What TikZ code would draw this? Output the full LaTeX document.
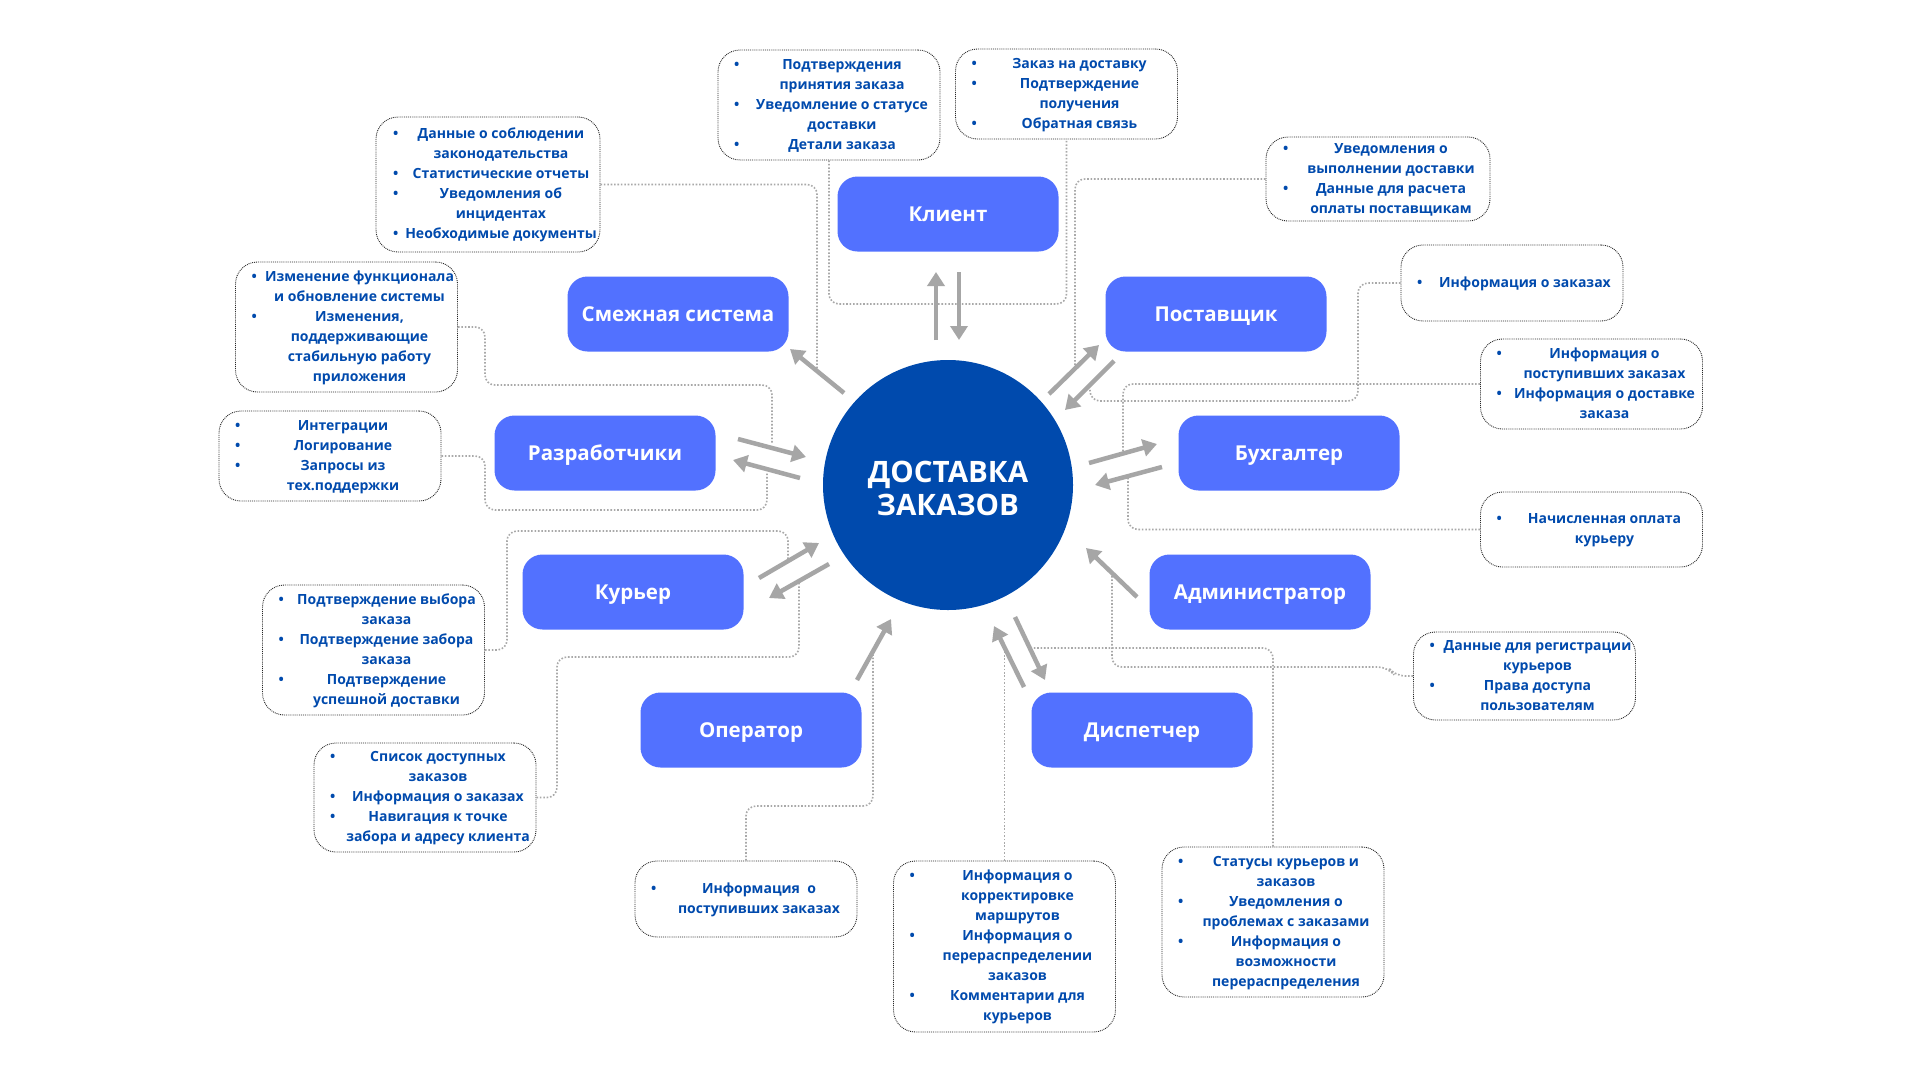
\documentclass[tikz,border=0pt]{standalone}
\usepackage{fontspec}
\setmainfont{Open Sans}
\usetikzlibrary{arrows.meta}
\definecolor{rolebl}{HTML}{5271FF}
\definecolor{darkbl}{HTML}{004AAD}
\definecolor{arrgray}{HTML}{A6A6A6}
\definecolor{dotgray}{HTML}{A9A9A9}
\newlength{\ibw}\setlength{\ibw}{222pt}
\newcommand{\bitem}[1]{\hbox to \ibw{\hbox to 26pt{\hspace{16pt}\textbullet\hss}\hbox to 196pt{\hss\vtop{\hsize=206pt\parindent=0pt\centering\strut #1\strut\par}\hss}\hss}\prevdepth=6pt}
\newcommand{\infotext}[1]{\vbox{\hsize=\ibw\baselineskip=20pt\lineskiplimit=0pt\lineskip=0pt\parindent=0pt #1}}
\tikzset{
  info/.style={draw=black!85, densely dotted, line width=0.9pt, rounded corners=22pt, fill=white, inner sep=0pt, text=darkbl, font=\fontsize{14}{20}\selectfont\bfseries},
  role/.style={fill=rolebl, rounded corners=20pt, minimum width=221pt, minimum height=75pt, inner sep=0pt, text height=15pt, text depth=0pt, text=white, font=\fontsize{20.5}{25}\selectfont\bfseries},
  hub/.style={circle, fill=darkbl, minimum size=250pt, inner sep=0pt},
  hubtxt/.style={inner sep=0pt, text=white, align=center, font=\fontsize{29.5}{33}\selectfont\bfseries},
  arr/.style={draw=arrgray, line width=4.5pt, -{Triangle[length=14pt,width=17pt]}},
  conn/.style={draw=dotgray, line width=1.6pt, dash pattern=on 1.6pt off 1.8pt, rounded corners=10pt}
}
\begin{document}
\begin{tikzpicture}[x=1pt,y=-1pt]
\fill[white] (0,0) rectangle (1920,1080);
\path[use as bounding box] (0,0) rectangle (1920,1080);

% info boxes
\node[info, minimum width=222pt, minimum height=110pt] (i1) at (829,105) {\infotext{\bitem{Подтверждения\\принятия заказа}\bitem{Уведомление о статусе\\доставки}\bitem{Детали заказа}}};
\node[info, minimum width=221pt, minimum height=90pt] (i2) at (1066.5,94) {\infotext{\bitem{Заказ на доставку}\bitem{Подтверждение\\получения}\bitem{Обратная связь}}};
\node[info, minimum width=224pt, minimum height=135pt] (i3) at (488,184.5) {\infotext{\bitem{Данные о соблюдении\\законодательства}\bitem{Статистические отчеты}\bitem{Уведомления об\\инцидентах}\bitem{Необходимые документы}}};
\node[info, minimum width=221pt, minimum height=130pt] (i4) at (346.5,327) {\infotext{\bitem{Изменение функционала\\и обновление системы}\bitem{Изменения,\\поддерживающие\\стабильную работу\\приложения}}};
\node[info, minimum width=220pt, minimum height=90pt] (i5) at (330,456) {\infotext{\bitem{Интеграции}\bitem{Логирование}\bitem{Запросы из\\тех.поддержки}}};
\node[info, minimum width=221pt, minimum height=130pt] (i6) at (373.5,650) {\infotext{\bitem{Подтверждение выбора\\заказа}\bitem{Подтверждение забора\\заказа}\bitem{Подтверждение\\успешной доставки}}};
\node[info, minimum width=222pt, minimum height=109pt] (i7) at (425,797.5) {\infotext{\bitem{Список доступных\\заказов}\bitem{Информация о заказах}\bitem{Навигация к точке\\забора и адресу клиента}}};
\node[info, minimum width=222pt, minimum height=76pt] (i8) at (746,899) {\infotext{\bitem{Информация\ \ о\\поступивших заказах}}};
\node[info, minimum width=221pt, minimum height=171pt] (i9) at (1004.5,946.5) {\infotext{\bitem{Информация о\\корректировке\\маршрутов}\bitem{Информация о\\перераспределении\\заказов}\bitem{Комментарии для\\курьеров}}};
\node[info, minimum width=220pt, minimum height=150pt] (i10) at (1273,922) {\infotext{\bitem{Статусы курьеров и\\заказов}\bitem{Уведомления о\\проблемах с заказами}\bitem{Информация о\\возможности\\перераспределения}}};
\node[info, minimum width=221pt, minimum height=88pt] (i11) at (1524.5,676) {\infotext{\bitem{Данные для регистрации\\курьеров}\bitem{Права доступа\\пользователям}}};
\node[info, minimum width=221pt, minimum height=75pt] (i12) at (1591.5,529.5) {\infotext{\bitem{Начисленная оплата\\курьеру}}};
\node[info, minimum width=221pt, minimum height=90pt] (i13) at (1591.5,384) {\infotext{\bitem{Информация о\\поступивших заказах}\bitem{Информация о доставке\\заказа}}};
\node[info, minimum width=220pt, minimum height=76pt] (i14) at (1512,283) {\infotext{\bitem{Информация о заказах}}};
\node[info, minimum width=224pt, minimum height=84pt] (i15) at (1378,179) {\infotext{\bitem{Уведомления о\\выполнении доставки}\bitem{Данные для расчета\\оплаты поставщикам}}};

% connector end points
\coordinate (klbot) at (948,304);
\coordinate (e3) at (817,370);
\coordinate (e4) at (772,443);
\coordinate (e5) at (767,472);
\coordinate (e6) at (788,560);
\coordinate (e7) at (799,582);
\coordinate (e8) at (873,655);
\coordinate (e9) at (1004.5,650);
\coordinate (e10) at (1030,648);
\coordinate (e11) at (1112,573);
\coordinate (e12) at (1128,476);
\coordinate (e13) at (1123,453);
\coordinate (e14) at (1090,388);
\coordinate (e15) at (1075,370);

% dotted connectors
\draw[conn] (i1.south) |- (klbot) -| (i2.south);
\draw[conn] (i3.east) -| (e3);
\draw[conn] (i4.east) -| (485,385) -| (e4);
\draw[conn] (i5.east) -| (485,510) -| (e5);
\draw[conn] (i6.east) -| (507,531) -| (e6);
\draw[conn] (i7.east) -| (557,657) -| (e7);
\draw[conn] (i8.north) |- (873,806) -- (e8);
\draw[conn] (i9.north) -- (e9);
\draw[conn] (i10.north) |- (e10);
\draw[conn] (i11.west) -- (1395,676) -- (1388,667) -- (1112,667) -- (e11);
\draw[conn] (i12.west) -| (e12);
\draw[conn] (i13.west) -| (e13);
\draw[conn] (i14.west) -| (1358,401) -| (e14);
\draw[conn] (i15.west) -| (e15);

% role nodes
\node[role] (klient) at (948,214) {Клиент};
\node[role] (smezh) at (678,314) {Смежная система};
\node[role] (post) at (1216,314) {Поставщик};
\node[role] (razr) at (605,453) {Разработчики};
\node[role] (buh) at (1289,453) {Бухгалтер};
\node[role] (kur) at (633,592) {Курьер};
\node[role] (adm) at (1260,592) {Администратор};
\node[role] (oper) at (751,730) {Оператор};
\node[role] (disp) at (1142,730) {Диспетчер};

% hub
\node[hub] (hub) at (948,485) {};
\node[hubtxt] (hubtext) at (948,488) {ДОСТАВКА\\ЗАКАЗОВ};

% arrow end points
\coordinate (k1a) at (936,340); \coordinate (k1b) at (936,272);
\coordinate (k2a) at (959,272); \coordinate (k2b) at (959,340);
\coordinate (sa) at (844,393); \coordinate (sb) at (790,349);
\coordinate (p1a) at (1049,394); \coordinate (p1b) at (1099,345);
\coordinate (p2a) at (1114,361); \coordinate (p2b) at (1065,410);
\coordinate (r1a) at (738,439); \coordinate (r1b) at (806,457);
\coordinate (r2a) at (800,478); \coordinate (r2b) at (733,460);
\coordinate (b1a) at (1089,463); \coordinate (b1b) at (1157,444);
\coordinate (b2a) at (1162,467); \coordinate (b2b) at (1095,485);
\coordinate (c1a) at (759,578); \coordinate (c1b) at (819,543);
\coordinate (c2a) at (829,564); \coordinate (c2b) at (769,598);
\coordinate (aa) at (1137,597); \coordinate (ab) at (1086,548);
\coordinate (oa) at (857,680); \coordinate (ob) at (891,619);
\coordinate (d1a) at (1024,687); \coordinate (d1b) at (994,626);
\coordinate (d2a) at (1015,617); \coordinate (d2b) at (1045,680);

% arrows
\draw[arr] (k1a) -- (k1b);
\draw[arr] (k2a) -- (k2b);
\draw[arr] (sa) -- (sb);
\draw[arr] (p1a) -- (p1b);
\draw[arr] (p2a) -- (p2b);
\draw[arr] (r1a) -- (r1b);
\draw[arr] (r2a) -- (r2b);
\draw[arr] (b1a) -- (b1b);
\draw[arr] (b2a) -- (b2b);
\draw[arr] (c1a) -- (c1b);
\draw[arr] (c2a) -- (c2b);
\draw[arr] (aa) -- (ab);
\draw[arr] (oa) -- (ob);
\draw[arr] (d1a) -- (d1b);
\draw[arr] (d2a) -- (d2b);
\end{tikzpicture}
\end{document}
